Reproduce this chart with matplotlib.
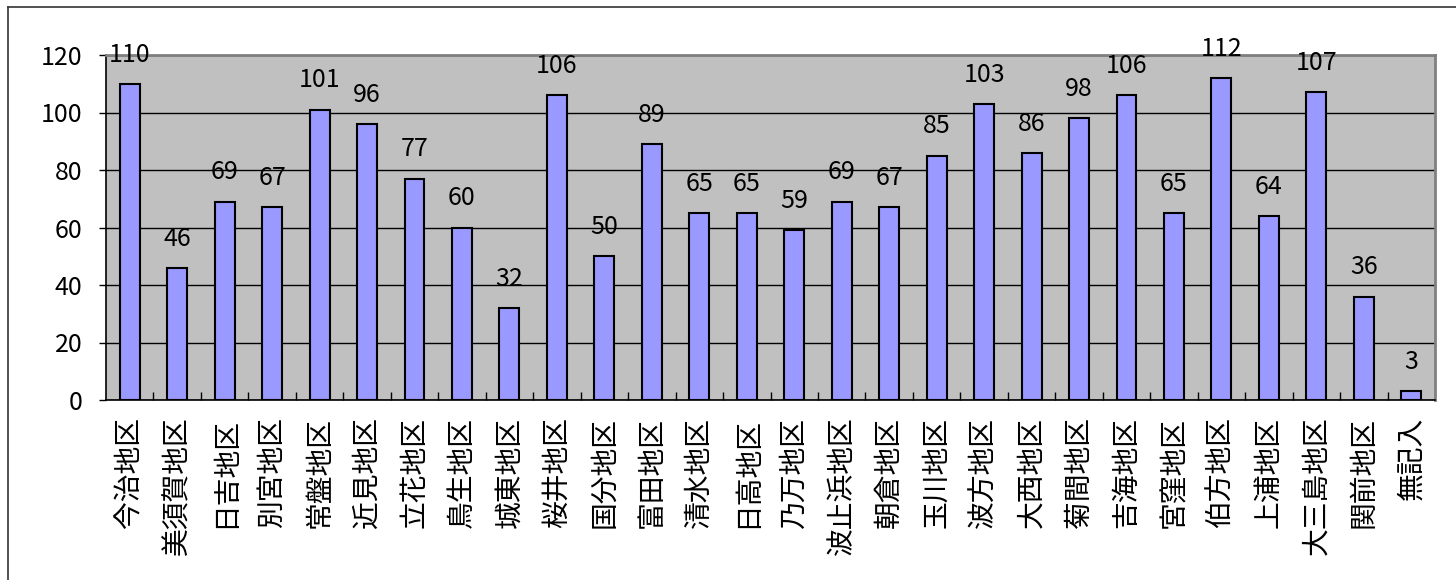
import matplotlib
matplotlib.use('Agg')
import matplotlib.pyplot as plt
from matplotlib.lines import Line2D
from matplotlib.ticker import FixedLocator

plt.rcParams['font.family'] = ['Noto Sans CJK JP', 'DejaVu Sans']

# District names and counts
districts = ['今治地区', '美須賀地区', '日吉地区', '別宮地区', '常盤地区', '近見地区',
             '立花地区', '鳥生地区', '城東地区', '桜井地区', '国分地区', '富田地区',
             '清水地区', '日高地区', '乃万地区', '波止浜地区', '朝倉地区', '玉川地区',
             '波方地区', '大西地区', '菊間地区', '吉海地区', '宮窪地区', '伯方地区',
             '上浦地区', '大三島地区', '関前地区', '無記入']
counts = [110, 46, 69, 67, 101, 96, 77, 60, 32, 106, 50, 89, 65, 65, 59, 69,
          67, 85, 103, 86, 98, 106, 65, 112, 64, 107, 36, 3]
yticks = [0, 20, 40, 60, 80, 100, 120]

fig = plt.figure(figsize=(14.56, 5.8), dpi=100)
ax = fig.add_axes([106 / 1456, 1 - 400 / 580, (1435 - 106) / 1456, 345 / 580])
ax.set_facecolor('#C0C0C0')

x = list(range(len(districts)))
ax.bar(x, counts, width=0.42, color='#9999FF', edgecolor='black', linewidth=1.5, zorder=3)

# value labels above bars
for xi, v in zip(x, counts):
    ax.annotate(str(v), (xi, v), xytext=(0, 21), textcoords='offset points',
                ha='center', va='center', fontsize=18, zorder=4, annotation_clip=False)

ax.set_xlim(-0.5, len(districts) - 0.5)
ax.set_ylim(0, 120)
ax.set_yticks(yticks)
ax.tick_params(axis='y', labelsize=18, length=5, width=1, direction='out', pad=12)
ax.yaxis.grid(True, color='black', linewidth=1, zorder=1)

# category labels (rotated), tick marks between categories
ax.set_xticks(x)
ax.set_xticklabels(districts, rotation=90, va='top', ha='center', fontsize=20)
ax.tick_params(axis='x', which='major', length=0, pad=12)
ax.xaxis.set_minor_locator(FixedLocator([i + 0.5 for i in range(len(districts) - 1)]))
ax.tick_params(axis='x', which='minor', length=6, width=1, direction='in', color='black')

for side in ['top', 'right']:
    ax.spines[side].set_color('#808080')
    ax.spines[side].set_linewidth(2)
for side in ['left', 'bottom']:
    ax.spines[side].set_color('black')
    ax.spines[side].set_linewidth(1.2)

# outer frame (top and left edges visible)
fig.add_artist(Line2D([8 / 1456, 8 / 1456], [0, 1 - 7 / 580], color='#333333', linewidth=1.2))
fig.add_artist(Line2D([8 / 1456, 1], [1 - 7 / 580, 1 - 7 / 580], color='#333333', linewidth=1.2))

fig.savefig('out.png', dpi=100)
